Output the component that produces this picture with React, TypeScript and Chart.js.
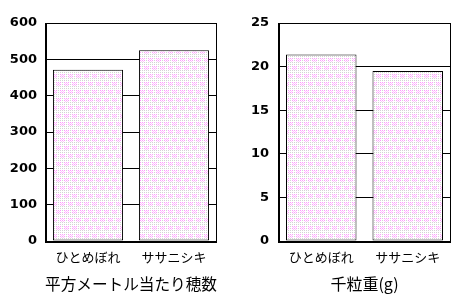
import React, { useEffect, useRef } from "react";
import { Chart, registerables } from "chart.js";
Chart.register(...registerables);

const categories = ["ひとめぼれ", "ササニシキ"];
const panicleValues = [471, 525];
const panicleMax = 600;
const panicleStep = 100;
const panicleTitle = "平方メートル当たり穂数";
const grainValues = [21.4, 19.5];
const grainMax = 25;
const grainStep = 5;
const grainTitle = "千粒重(g)";

function makePattern(ctx: CanvasRenderingContext2D): CanvasPattern | string {
  const c = document.createElement("canvas");
  c.width = 16;
  c.height = 16;
  const g = c.getContext("2d");
  if (!g) return "#f6e0f6";
  g.fillStyle = "#ffffff";
  g.fillRect(0, 0, 16, 16);
  for (let y = 0; y < 16; y++) {
    for (let x = 0; x < 16; x++) {
      const bx = (x + (Math.floor(y / 8) % 2) * 4) % 8;
      const inBlock = bx < 5 && (y % 8) >= 2 && (y % 8) < 6;
      if (x % 2 === 0 && y % 2 === 0) {
        g.fillStyle = inBlock ? "#ff99ff" : "#d4d4d4";
        g.fillRect(x, y, 1, 1);
      } else if (x % 2 === 1 && y % 2 === 1 && inBlock) {
        g.fillStyle = "#ffc4ff";
        g.fillRect(x, y, 1, 1);
      }
    }
  }
  return ctx.createPattern(c, "repeat") || "#f6e0f6";
}

const boxPlugin = {
  id: "box",
  afterDraw(chart: any) {
    const { ctx, chartArea } = chart;
    ctx.save();
    ctx.strokeStyle = "#000";
    ctx.lineWidth = 1;
    ctx.strokeRect(chartArea.left + 0.5, chartArea.top + 0.5, chartArea.right - chartArea.left - 1, chartArea.bottom - chartArea.top);
    ctx.lineWidth = 2;
    ctx.beginPath();
    ctx.moveTo(chartArea.left + 1, chartArea.top);
    ctx.lineTo(chartArea.left + 1, chartArea.bottom + 1);
    ctx.lineTo(chartArea.right, chartArea.bottom + 1);
    ctx.stroke();
    ctx.restore();
  },
};

type PanelProps = {
  values: number[];
  max: number;
  step: number;
  title: string;
  yWidth: number;
  padRight: number;
  tickPad: number;
};

function Panel({ values, max, step, title, yWidth, padRight, tickPad }: PanelProps) {
  const ref = useRef<HTMLCanvasElement>(null);
  useEffect(() => {
    const canvas = ref.current;
    if (!canvas) return;
    const ctx = canvas.getContext("2d");
    if (!ctx) return;
    const pattern = makePattern(ctx);
    const chart = new Chart(canvas, {
      type: "bar",
      data: {
        labels: categories,
        datasets: [
          {
            data: values,
            backgroundColor: pattern as any,
            borderColor: "#000",
            borderWidth: 1,
            borderSkipped: false,
            barPercentage: 0.815,
            categoryPercentage: 1,
          },
        ],
      },
      options: {
        responsive: false,
        animation: false,
        devicePixelRatio: 1,
        layout: { padding: { top: 23, right: padRight, bottom: 0, left: 0 } },
        plugins: { legend: { display: false }, tooltip: { enabled: false } },
        scales: {
          x: {
            grid: { display: false, drawTicks: false },
            border: { display: false },
            ticks: {
              color: "#000",
              padding: 8,
              font: { family: "'Noto Sans CJK JP'", size: 13 },
            },
            title: {
              display: true,
              text: title,
              color: "#000",
              font: { family: "'Noto Sans CJK JP'", size: 16 },
              padding: { top: 0, bottom: 8 },
            },
            afterFit: (s: any) => {
              s.height = 61;
            },
          },
          y: {
            min: 0,
            max: max,
            grid: { color: "#000", lineWidth: 1, drawTicks: false },
            border: { display: false },
            ticks: {
              stepSize: step,
              color: "#000",
              padding: tickPad,
              font: { family: "'DejaVu Sans'", size: 13, weight: "bold" },
            },
            afterFit: (s: any) => {
              s.width = yWidth;
            },
          },
        },
      },
      plugins: [boxPlugin],
    });
    return () => chart.destroy();
  }, []);
  return <canvas ref={ref} width={236} height={302} style={{ display: "block", width: 236, height: 302 }} />;
}

export default function App() {
  return (
    <div style={{ position: "fixed", left: 0, top: 0, width: 472, height: 302, display: "flex", background: "#fff" }}>
      <Panel values={panicleValues} max={panicleMax} step={panicleStep} title={panicleTitle} yWidth={45} padRight={19} tickPad={8} />
      <Panel values={grainValues} max={grainMax} step={grainStep} title={grainTitle} yWidth={42} padRight={21} tickPad={9} />
    </div>
  );
}
